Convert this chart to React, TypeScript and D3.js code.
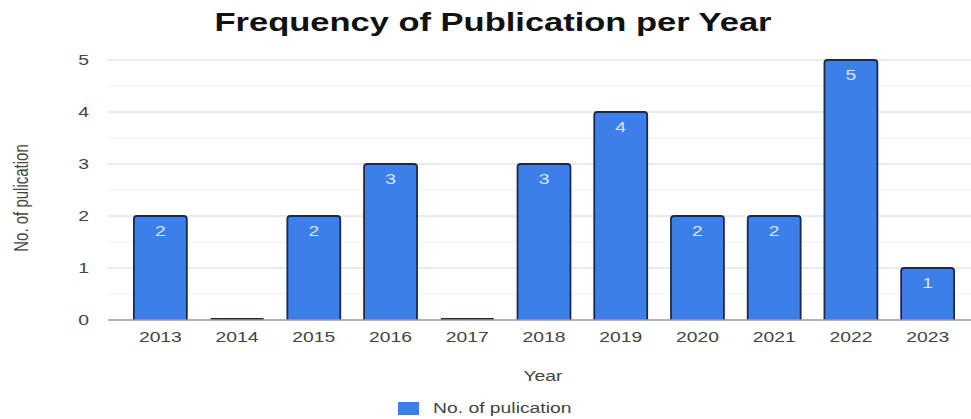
import React from "react";
import * as d3 from "d3";

const years = ["2013", "2014", "2015", "2016", "2017", "2018", "2019", "2020", "2021", "2022", "2023"];
const counts = [2, 0, 2, 3, 0, 3, 4, 2, 2, 5, 1];
const yTicks = [0, 1, 2, 3, 4, 5];
const minorTicks = [0.5, 1.5, 2.5, 3.5, 4.5];
const titleText = "Frequency of Publication per Year";
const xTitle = "Year";
const yTitle = "No. of pulication";
const seriesName = "No. of pulication";

const W = 971;
const H = 419;
const SX = 1.38;
const FONT = "'Liberation Sans', Arial, sans-serif";
const BAR = "#3d7fe9";
const OUTLINE = "#1c2a48";

function SText(props: any) {
  const { x, y, size = 14, anchor = "middle", weight = "normal", fill = "#444", rotate = false, children } = props;
  const t = rotate
    ? `translate(${x},${y}) rotate(-90) scale(1,${SX})`
    : `translate(${x},${y}) scale(${SX},1)`;
  return (
    <text transform={t} textAnchor={anchor} fontSize={size} fontWeight={weight} fill={fill} fontFamily={FONT}>
      {children}
    </text>
  );
}

export default function App() {
  const x = d3.scaleBand<string>().domain(years).range([122, 966]).paddingInner(0.31).paddingOuter(0.155);
  const y = d3.scaleLinear().domain([0, 5]).range([320, 60]);
  const gridLeft = 108;
  const gridRight = 971;
  const bw = x.bandwidth();
  const r = 3;

  const barPath = (x0: number, v: number) => {
    const top = y(v);
    const bottom = y(0);
    const p = d3.path();
    p.moveTo(x0, bottom);
    p.lineTo(x0, top + r);
    p.quadraticCurveTo(x0, top, x0 + r, top);
    p.lineTo(x0 + bw - r, top);
    p.quadraticCurveTo(x0 + bw, top, x0 + bw, top + r);
    p.lineTo(x0 + bw, bottom);
    return p.toString();
  };

  return (
    <svg width={W} height={H} style={{ position: "absolute", left: 0, top: 0, background: "#fff" }}>
      <rect x={0} y={0} width={W} height={H} fill="#fff" />
      <SText x={493} y={31} size={25} weight="bold" fill="#111">{titleText}</SText>

      {minorTicks.map((t) => (
        <line key={"m" + t} x1={gridLeft} x2={gridRight} y1={y(t)} y2={y(t)} stroke="#efefef" strokeWidth={1} />
      ))}
      {yTicks.filter((t) => t !== 0).map((t) => (
        <line key={"g" + t} x1={gridLeft} x2={gridRight} y1={y(t)} y2={y(t)} stroke="#d6d6d6" strokeWidth={1} />
      ))}
      {yTicks.map((t) => (
        <SText key={"yl" + t} x={89} y={y(t) + 5} anchor="end" size={14} fill="#444">{t}</SText>
      ))}

      {years.map((yr, i) => {
        const x0 = x(yr) as number;
        const v = counts[i];
        if (v === 0) {
          return <line key={yr} x1={x0} x2={x0 + bw} y1={y(0) - 1} y2={y(0) - 1} stroke={OUTLINE} strokeWidth={2} />;
        }
        return (
          <g key={yr}>
            <path d={barPath(x0, v) + "Z"} fill={BAR} stroke="none" />
            <path d={barPath(x0, v)} fill="none" stroke={OUTLINE} strokeWidth={1.8} />
            <SText x={x0 + bw / 2} y={y(v) + 20} size={14} fill="#d7e5ff">{v}</SText>
          </g>
        );
      })}
      <line x1={gridLeft} x2={gridRight} y1={y(0)} y2={y(0)} stroke="#9a9a9a" strokeWidth={1.5} />

      {years.map((yr) => (
        <SText key={"xl" + yr} x={(x(yr) as number) + bw / 2} y={342} size={14} fill="#444">{yr}</SText>
      ))}

      <SText x={543} y={381} size={14} fill="#444">{xTitle}</SText>
      <SText x={28} y={198} size={15} fill="#444" rotate>{yTitle}</SText>

      <rect x={398} y={402} width={21} height={13} fill={BAR} />
      <SText x={433} y={413} size={14} anchor="start" fill="#444">{seriesName}</SText>
    </svg>
  );
}
